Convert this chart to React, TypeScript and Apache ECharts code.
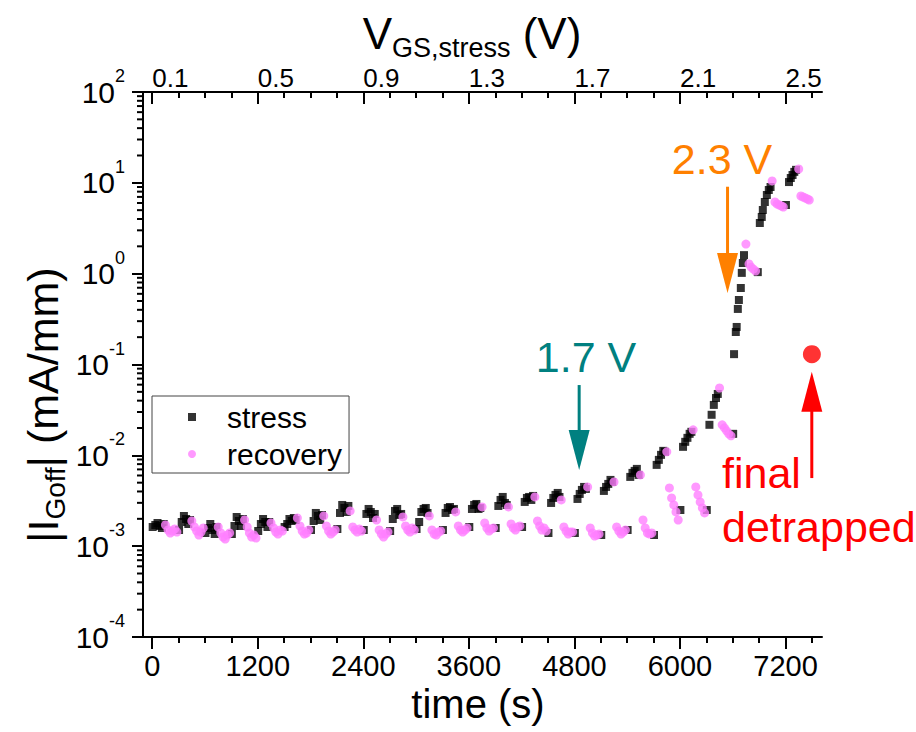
import React, { useEffect, useRef } from 'react';
import * as echarts from 'echarts';

const FONT = '"Liberation Sans", Arial, Helvetica, sans-serif';

// time axis range (s) and the stress-voltage mapping of the top axis
const T_MIN = -105;
const T_MAX = 7615;
const V_START = 0.1; // V at t = 0
const V_STEP_TIME = 3000; // s per volt (0.1 V every 300 s)

const timeTicks = [0, 1200, 2400, 3600, 4800, 6000, 7200];
const timeMinorTicks = [300, 600, 900, 1500, 1800, 2100, 2700, 3000, 3300, 3900, 4200, 4500, 5100, 5400, 5700, 6300, 6600, 6900, 7500];
const voltTicks = [0.1, 0.5, 0.9, 1.3, 1.7, 2.1, 2.5];
const voltMinorTicks = [0.2, 0.3, 0.4, 0.6, 0.7, 0.8, 1.0, 1.1, 1.2, 1.4, 1.5, 1.6, 1.8, 1.9, 2.0, 2.2, 2.3, 2.4, 2.6];
const yDecades = [-4, -3, -2, -1, 0, 1];
const yMinorMultipliers = [2, 3, 4, 5, 6, 7, 8, 9];

// stress points [time (s), |IGoff| (mA/mm)]
const stressData: number[][] = [
  [5, 0.001626], [35, 0.001711], [60, 0.0018], [85, 0.001668], [110, 0.001585], [130, 0.001755],
  [305, 0.001507], [335, 0.001846], [360, 0.00215], [385, 0.001992], [410, 0.001755], [430, 0.001942],
  [605, 0.001396], [635, 0.001585], [660, 0.001755], [685, 0.001507], [710, 0.001361], [730, 0.001626],
  [905, 0.001361], [935, 0.001668], [960, 0.002096], [985, 0.001893], [1010, 0.001668], [1030, 0.001992],
  [1205, 0.001469], [1235, 0.001755], [1260, 0.001992], [1285, 0.001846], [1310, 0.001626], [1330, 0.001846],
  [1505, 0.001626], [1535, 0.001755], [1560, 0.001992], [1585, 0.001893], [1610, 0.002043], [1630, 0.001942],
  [1805, 0.001507], [1835, 0.001893], [1860, 0.00232], [1885, 0.00215], [1910, 0.001942], [1930, 0.002205],
  [2105, 0.001545], [2135, 0.00232], [2160, 0.002842], [2185, 0.002634], [2210, 0.002379], [2230, 0.002771],
  [2405, 0.001507], [2435, 0.002262], [2460, 0.002568], [2485, 0.002379], [2510, 0.002043], [2530, 0.002262],
  [2705, 0.001469], [2735, 0.001992], [2760, 0.002441], [2785, 0.002568], [2810, 0.002205], [2830, 0.002262],
  [3005, 0.001545], [3035, 0.001846], [3060, 0.002379], [3085, 0.002568], [3110, 0.002634], [3130, 0.00232],
  [3305, 0.001507], [3335, 0.00232], [3360, 0.002634], [3385, 0.002701], [3410, 0.002503], [3430, 0.002568],
  [3605, 0.001626], [3635, 0.002568], [3660, 0.002842], [3685, 0.002915], [3710, 0.002568], [3730, 0.002634],
  [3905, 0.001585], [3935, 0.002771], [3960, 0.003227], [3985, 0.003482], [4010, 0.00299], [4030, 0.002842],
  [4205, 0.001626], [4235, 0.003067], [4260, 0.003395], [4285, 0.003482], [4310, 0.003227], [4330, 0.003572],
  [4505, 0.001396], [4535, 0.00299], [4560, 0.003395], [4585, 0.003664], [4610, 0.003855], [4630, 0.003482],
  [4805, 0.001396], [4835, 0.00331], [4860, 0.003758], [4885, 0.00416], [4910, 0.004489], [4930, 0.004267],
  [5105, 0.001327], [5135, 0.004056], [5160, 0.004489], [5185, 0.004845], [5210, 0.005363], [5230, 0.005097],
  [5405, 0.001507], [5435, 0.005787], [5460, 0.006406], [5485, 0.006739], [5510, 0.007091], [5530, 0.006089],
  [5705, 0.001327], [5735, 0.007849], [5760, 0.008912], [5785, 0.01012], [5810, 0.0112], [5830, 0.01092],
  [6005, 0.002503], [6035, 0.0124], [6060, 0.01408], [6085, 0.01558], [6110, 0.01725], [6130, 0.01815],
  [6305, 0.002503], [6335, 0.02168], [6360, 0.02794], [6385, 0.0359], [6410, 0.0428], [6430, 0.0474],
  [6605, 0.01725], [6615, 0.13], [6635, 0.228], [6645, 0.259], [6658, 0.409], [6670, 0.513], [6692, 0.695], [6703, 1.02], [6715, 1.31], [6728, 1.6],
  [6885, 1.04], [6908, 3.61], [6930, 4.21], [6942, 5.02], [6965, 6.15], [6988, 7.35], [7010, 8.34], [7030, 9.0],
  [7205, 5.7], [7240, 10.2], [7260, 11.3], [7280, 12.2], [7300, 13.2], [7320, 13.9],
];

// recovery points [time (s), |IGoff| (mA/mm)]
const recoveryData: number[][] = [
  [150, 0.001711], [180, 0.001507], [205, 0.001396], [230, 0.001469], [255, 0.001545], [280, 0.001432],
  [450, 0.001893], [480, 0.001626], [505, 0.001469], [530, 0.001327], [555, 0.001432], [580, 0.001585],
  [750, 0.001626], [780, 0.001396], [805, 0.001261], [830, 0.001199], [855, 0.001327], [880, 0.001396],
  [1050, 0.001942], [1080, 0.001626], [1105, 0.001396], [1130, 0.001261], [1155, 0.001327], [1180, 0.00123],
  [1350, 0.0018], [1380, 0.001585], [1405, 0.001432], [1430, 0.001361], [1455, 0.001507], [1480, 0.001469],
  [1650, 0.002043], [1680, 0.001668], [1705, 0.001469], [1730, 0.001361], [1755, 0.001396], [1780, 0.001507],
  [1950, 0.00215], [1980, 0.001668], [2005, 0.001469], [2030, 0.001361], [2055, 0.001432], [2080, 0.001507],
  [2250, 0.002441], [2280, 0.001626], [2305, 0.001507], [2330, 0.001432], [2355, 0.001545], [2380, 0.001469],
  [2550, 0.001942], [2580, 0.001507], [2605, 0.001361], [2630, 0.001261], [2655, 0.001361], [2680, 0.001432],
  [2850, 0.002096], [2880, 0.001668], [2905, 0.001507], [2930, 0.001432], [2955, 0.001585], [2980, 0.001507],
  [3150, 0.00215], [3180, 0.001507], [3205, 0.001361], [3230, 0.001327], [3255, 0.001432], [3280, 0.001469],
  [3450, 0.002379], [3480, 0.001668], [3505, 0.001507], [3530, 0.001432], [3555, 0.001507], [3580, 0.001585],
  [3750, 0.002701], [3780, 0.0018], [3805, 0.001585], [3830, 0.001469], [3855, 0.001545], [3880, 0.001585],
  [4050, 0.002701], [4080, 0.001755], [4105, 0.001585], [4130, 0.001507], [4155, 0.001626], [4180, 0.001668],
  [4350, 0.003482], [4380, 0.001893], [4405, 0.001668], [4430, 0.001507], [4455, 0.001585], [4480, 0.001469],
  [4650, 0.003227], [4680, 0.001626], [4705, 0.001469], [4730, 0.001361], [4755, 0.001432], [4780, 0.001432],
  [4950, 0.004489], [4980, 0.001585], [5005, 0.001396], [5030, 0.001294], [5055, 0.001327], [5080, 0.001361],
  [5250, 0.005097], [5280, 0.001626], [5305, 0.001469], [5330, 0.001361], [5355, 0.001432], [5380, 0.001507],
  [5550, 0.006089], [5580, 0.001942], [5605, 0.001585], [5630, 0.001396], [5655, 0.001361], [5680, 0.001396],
  [5850, 0.01092], [5880, 0.004377], [5905, 0.003395], [5930, 0.002842], [5955, 0.002379], [5980, 0.001942],
  [6150, 0.01909], [6180, 0.004489], [6205, 0.003664], [6230, 0.003067], [6255, 0.002634], [6280, 0.00232],
  [6450, 0.0551], [6480, 0.02168], [6505, 0.02009], [6530, 0.01861], [6555, 0.01725], [6580, 0.01639],
  [6750, 2.12], [6785, 1.28], [6810, 1.18], [6835, 1.12], [6860, 1.07],
  [7048, 10.5], [7080, 6.15], [7105, 5.85], [7130, 5.7], [7155, 5.56], [7175, 5.42],
  [7350, 14.2], [7375, 7.16], [7400, 6.98], [7425, 6.81], [7450, 6.64], [7470, 6.47],
];

// final detrapped point
const finalData: number[][] = [[7500, 0.13]];

// annotation arrows [time, from value, to (tip) value]
const arrowTeal = [4854, 0.0594, 0.00689];
const arrowOrange = [6541, 9.06, 0.612];
const arrowRed = [7499, 0.00562, 0.0834];

const TEAL = '#008080';
const ORANGE = '#FF8000';
const RED = '#FF0000';
const PINK = '#FF80FF';

const yMinorTickValues: number[][] = [];
yDecades.forEach((d) => {
  yMinorMultipliers.forEach((m) => {
    yMinorTickValues.push([T_MIN, m * Math.pow(10, d)]);
  });
});

const toVolt = (t: number) => V_START + t / V_STEP_TIME;

function buildOption(): any {
  const axisLineStyle = { color: '#000', width: 2 };
  return {
    animation: false,
    backgroundColor: '#fff',
    textStyle: { fontFamily: FONT },
    grid: { left: 143, top: 92, width: 679, height: 545, containLabel: false },
    legend: {
      data: [
        { name: 'stress', icon: 'rect' },
        { name: 'recovery', icon: 'circle' },
      ],
      orient: 'vertical',
      left: 152,
      top: 396,
      padding: [4, 7, 2, 36],
      itemWidth: 8,
      itemHeight: 8,
      itemGap: 3,
      borderColor: '#444',
      borderWidth: 1,
      selectedMode: false,
      textStyle: { fontSize: 30, fontFamily: FONT, color: '#000', lineHeight: 34, padding: [0, 0, 0, 26] },
    },
    xAxis: [
      {
        type: 'value', position: 'bottom', min: T_MIN, max: T_MAX,
        axisLine: { show: true, onZero: false, lineStyle: axisLineStyle },
        axisTick: { show: true, customValues: timeTicks, length: 12, inside: false, lineStyle: { width: 2, color: '#000' } },
        axisLabel: {
          customValues: timeTicks, fontSize: 29, fontFamily: FONT, color: '#000', margin: 14,
          formatter: (v: number) => String(Math.round(v)),
        },
        splitLine: { show: false },
      },
      {
        type: 'value', position: 'bottom', min: T_MIN, max: T_MAX,
        axisLine: { show: false, onZero: false },
        axisTick: { show: true, customValues: timeMinorTicks, length: 6, inside: false, lineStyle: { width: 2, color: '#000' } },
        axisLabel: { show: false },
        splitLine: { show: false },
      },
      {
        type: 'value', position: 'top', min: toVolt(T_MIN), max: toVolt(T_MAX),
        axisLine: { show: true, onZero: false, lineStyle: axisLineStyle },
        axisTick: { show: true, customValues: voltTicks, length: 12, inside: true, lineStyle: { width: 2, color: '#000' } },
        axisLabel: {
          customValues: voltTicks, fontSize: 26, fontFamily: FONT, color: '#000', margin: 1, align: 'left',
          formatter: (v: number) => v.toFixed(1),
        },
        splitLine: { show: false },
      },
      {
        type: 'value', position: 'top', min: toVolt(T_MIN), max: toVolt(T_MAX),
        axisLine: { show: false, onZero: false },
        axisTick: { show: true, customValues: voltMinorTicks, length: 6, inside: true, lineStyle: { width: 2, color: '#000' } },
        axisLabel: { show: false },
        splitLine: { show: false },
      },
    ],
    yAxis: {
      type: 'log', logBase: 10, min: 1e-4, max: 100, splitNumber: 6,
      axisLine: { show: true, onZero: false, lineStyle: axisLineStyle },
      axisTick: { show: true, length: 11, inside: false, lineStyle: { width: 2, color: '#000' } },
      axisLabel: {
        margin: 18,
        color: '#000',
        formatter: (v: number) => `{b|10}{s|${Math.round(Math.log10(v))}}`,
        rich: {
          b: { fontSize: 30, fontFamily: FONT, color: '#000', verticalAlign: 'middle', lineHeight: 30 },
          s: { fontSize: 18, fontFamily: FONT, color: '#000', verticalAlign: 'top', padding: [0, 0, 32, 0] },
        },
      },
      splitLine: { show: false },
    },
    series: [
      {
        name: 'stress', type: 'scatter', xAxisIndex: 0, yAxisIndex: 0,
        symbol: 'rect', symbolSize: 8, itemStyle: { color: '#000' }, z: 2,
        data: stressData,
      },
      {
        name: 'recovery', type: 'scatter', xAxisIndex: 0, yAxisIndex: 0,
        symbol: 'circle', symbolSize: 9, itemStyle: { color: PINK }, z: 3,
        data: recoveryData,
      },
      {
        name: 'final detrapped', type: 'scatter', xAxisIndex: 0, yAxisIndex: 0,
        symbol: 'circle', symbolSize: 18, itemStyle: { color: RED }, z: 4,
        data: finalData,
      },
      {
        name: 'arrows', type: 'custom', xAxisIndex: 0, yAxisIndex: 0, silent: true, z: 5,
        encode: { x: 0, y: [1, 2] },
        data: [
          { value: arrowTeal, itemStyle: { color: TEAL } },
          { value: arrowOrange, itemStyle: { color: ORANGE } },
          { value: arrowRed, itemStyle: { color: RED } },
        ],
        renderItem: (params: any, api: any) => {
          const x = api.value(0);
          const p1 = api.coord([x, api.value(1)]);
          const p2 = api.coord([x, api.value(2)]);
          const dir = p2[1] > p1[1] ? 1 : -1;
          const headLen = 40;
          const half = 10.5;
          const baseY = p2[1] - dir * headLen;
          const color = api.visual('color');
          return {
            type: 'group',
            children: [
              { type: 'line', shape: { x1: p1[0], y1: p1[1], x2: p1[0], y2: baseY + dir * 2 }, style: { stroke: color, lineWidth: 3 } },
              { type: 'polygon', shape: { points: [[p2[0], p2[1]], [p2[0] - half, baseY], [p2[0] + half, baseY]] }, style: { fill: color } },
            ],
          };
        },
      },
      {
        name: 'yMinorTicks', type: 'custom', xAxisIndex: 0, yAxisIndex: 0, silent: true, clip: false,
        data: yMinorTickValues,
        renderItem: (params: any, api: any) => {
          const p = api.coord([api.value(0), api.value(1)]);
          const x0 = params.coordSys.x;
          return { type: 'line', shape: { x1: x0 - 6, y1: p[1], x2: x0, y2: p[1] }, style: { stroke: '#000', lineWidth: 2 } };
        },
      },
    ],
    graphic: [
      {
        type: 'text', x: 472, y: 33, silent: true,
        style: {
          text: '{a|V}{b|GS,stress}{a| (V)}', align: 'center', verticalAlign: 'middle',
          rich: {
            a: { fontSize: 44, fontFamily: FONT, fill: '#000', verticalAlign: 'middle' },
            b: { fontSize: 27, fontFamily: FONT, fill: '#000', verticalAlign: 'bottom', padding: [30, 0, 0, 0] },
          },
        },
      },
      {
        type: 'text', x: 478, y: 704, silent: true,
        style: { text: 'time (s)', fontSize: 40, fontFamily: FONT, fill: '#000', align: 'center', verticalAlign: 'middle' },
      },
      {
        type: 'text', x: 43, y: 405, rotation: Math.PI / 2, silent: true,
        style: {
          text: '{a||I}{b|Goff}{a|| (mA/mm)}', align: 'center', verticalAlign: 'middle',
          rich: {
            a: { fontSize: 43, fontFamily: FONT, fill: '#000', verticalAlign: 'middle' },
            b: { fontSize: 28, fontFamily: FONT, fill: '#000', verticalAlign: 'bottom', padding: [25, 0, 0, 0] },
          },
        },
      },
      {
        type: 'text', x: 586, y: 357, silent: true,
        style: { text: '1.7 V', fontSize: 43, fontFamily: FONT, fill: TEAL, align: 'center', verticalAlign: 'middle' },
      },
      {
        type: 'text', x: 722, y: 159, silent: true,
        style: { text: '2.3 V', fontSize: 43, fontFamily: FONT, fill: ORANGE, align: 'center', verticalAlign: 'middle' },
      },
      {
        type: 'text', x: 722, y: 473, silent: true,
        style: { text: 'final', fontSize: 43, fontFamily: FONT, fill: RED, align: 'left', verticalAlign: 'middle' },
      },
      {
        type: 'text', x: 722, y: 527, silent: true,
        style: { text: 'detrapped', fontSize: 43, fontFamily: FONT, fill: RED, align: 'left', verticalAlign: 'middle' },
      },
    ],
  };
}

export default function App() {
  const ref = useRef<HTMLDivElement>(null);
  useEffect(() => {
    document.body.style.margin = '0';
    const chart = echarts.init(ref.current as HTMLDivElement, undefined, { renderer: 'svg' });
    chart.setOption(buildOption());
    return () => {
      chart.dispose();
    };
  }, []);
  return <div ref={ref} style={{ width: 916, height: 732 }} />;
}
